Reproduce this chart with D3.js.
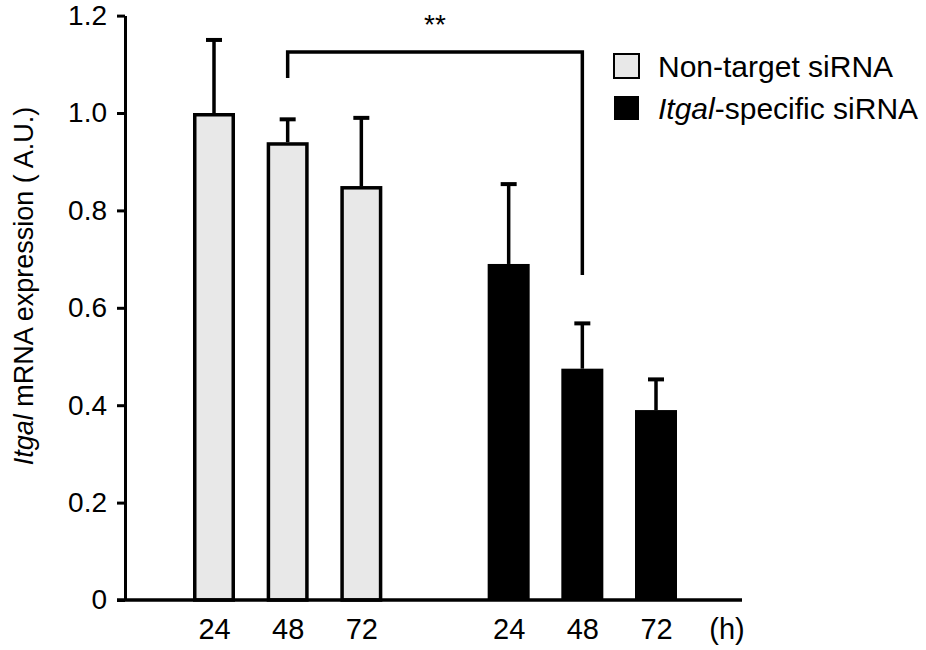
<!DOCTYPE html>
<html>
<head>
<meta charset="utf-8">
<script src="https://cdn.jsdelivr.net/npm/d3@7"></script>
<style>
  html, body { margin: 0; padding: 0; background: #fff; }
  svg { display: block; font-family: "Liberation Sans", Arial, sans-serif; }
</style>
</head>
<body>
<svg id="chart" width="926" height="650"></svg>
<script>
// ---- data ----
const categories = ["24", "48", "72"];
const seriesNames = ["Non-target siRNA", "Itgal-specific siRNA"];
const nonTargetValues = [1.0, 0.94, 0.85];
const nonTargetErrors = [0.15, 0.047, 0.14];
const specificValues = [0.69, 0.475, 0.39];
const specificErrors = [0.164, 0.093, 0.063];
const yTickValues = [0, 0.2, 0.4, 0.6, 0.8, 1.0, 1.2];
const unitLabel = "(h)";
const significance = "**";

const seriesColors = ["#e8e8e8", "#000000"];

const rows = [];
[[nonTargetValues, nonTargetErrors], [specificValues, specificErrors]].forEach(([vals, errs], s) => {
  vals.forEach((v, i) => rows.push({ series: s, cat: i, value: v, err: errs[i], slot: s * 4 + i }));
});

const svg = d3.select("#chart");

const y = d3.scaleLinear().domain([0, 1.2]).range([600, 15.6]);
const x = d3.scaleLinear().domain([0, 6]).range([214, 656]);
const axisX = 125;
const barW = 42;

// y axis
const yAxis = d3.axisLeft(y)
  .tickValues(yTickValues)
  .tickFormat(d => d === 0 ? "0" : d3.format(".1f")(d))
  .tickSize(8).tickSizeOuter(0).tickPadding(10);
const yg = svg.append("g").attr("transform", `translate(${axisX},0)`).call(yAxis);
yg.select(".domain").attr("stroke", "#000").attr("stroke-width", 3);
yg.selectAll(".tick line").attr("stroke", "#000").attr("stroke-width", 3);
yg.selectAll(".tick text").attr("font-size", 28).attr("fill", "#000")
  .attr("font-family", "'Liberation Sans', Arial, sans-serif");

// y title
svg.append("text")
  .attr("transform", "translate(33,286) rotate(-90)")
  .attr("text-anchor", "middle")
  .attr("font-size", 27)
  .call(t => {
    t.append("tspan").attr("font-style", "italic").text("Itgal");
    t.append("tspan").text(" mRNA expression ( A.U.)");
  });

// bars
const bars = svg.append("g");
rows.forEach(r => {
  const cx = x(r.slot);
  if (r.series === 0) {
    bars.append("rect")
      .attr("x", cx - barW / 2 + 1.75).attr("width", barW - 3.5)
      .attr("y", y(r.value) + 1.75).attr("height", y(0) - y(r.value) - 1.75)
      .attr("fill", seriesColors[0]).attr("stroke", "#000").attr("stroke-width", 3.5);
  } else {
    bars.append("rect")
      .attr("x", cx - barW / 2).attr("width", barW)
      .attr("y", y(r.value)).attr("height", y(0) - y(r.value))
      .attr("fill", seriesColors[1]);
  }
  // error bar
  bars.append("line")
    .attr("x1", cx).attr("x2", cx)
    .attr("y1", y(r.value)).attr("y2", y(r.value + r.err))
    .attr("stroke", "#000").attr("stroke-width", 3.5);
  bars.append("line")
    .attr("x1", cx - 8).attr("x2", cx + 8)
    .attr("y1", y(r.value + r.err)).attr("y2", y(r.value + r.err))
    .attr("stroke", "#000").attr("stroke-width", 4);
});

// x axis baseline
svg.append("line")
  .attr("x1", 117).attr("x2", 742).attr("y1", y(0)).attr("y2", y(0))
  .attr("stroke", "#000").attr("stroke-width", 3.5);

// x labels
const xAxis = d3.axisBottom(x)
  .tickValues(rows.map(r => r.slot))
  .tickFormat(d => categories[d % 4])
  .tickSize(0).tickPadding(18);
const xg = svg.append("g").attr("transform", `translate(0,${y(0)})`).call(xAxis);
xg.select(".domain").remove();
xg.selectAll(".tick text").attr("font-size", 29).attr("fill", "#000")
  .attr("font-family", "'Liberation Sans', Arial, sans-serif");

svg.append("text")
  .attr("x", 727).attr("y", 639)
  .attr("text-anchor", "middle").attr("font-size", 29)
  .text(unitLabel);

// significance bracket (between Non-target 48 h and Itgal-specific 48 h)
const bx1 = x(1), bx2 = x(5);
svg.append("path")
  .attr("d", `M${bx1},78 V52 H${bx2} V275`)
  .attr("fill", "none").attr("stroke", "#000").attr("stroke-width", 3.5);
svg.append("text")
  .attr("x", (bx1 + bx2) / 2).attr("y", 34)
  .attr("text-anchor", "middle").attr("font-size", 28)
  .text(significance);

// legend
const legend = svg.append("g");
seriesNames.forEach((name, i) => {
  const ly = 53 + i * 42;
  legend.append("rect")
    .attr("x", 614).attr("y", ly + 1).attr("width", 25).attr("height", 24)
    .attr("fill", seriesColors[i]).attr("stroke", "#000").attr("stroke-width", i === 0 ? 2 : 0);
  const t = legend.append("text").attr("x", 658).attr("y", ly + 24).attr("font-size", 30);
  if (i === 1) {
    t.append("tspan").attr("font-style", "italic").text("Itgal");
    t.append("tspan").text("-specific siRNA");
  } else {
    t.text(name);
  }
});
</script>
</body>
</html>
